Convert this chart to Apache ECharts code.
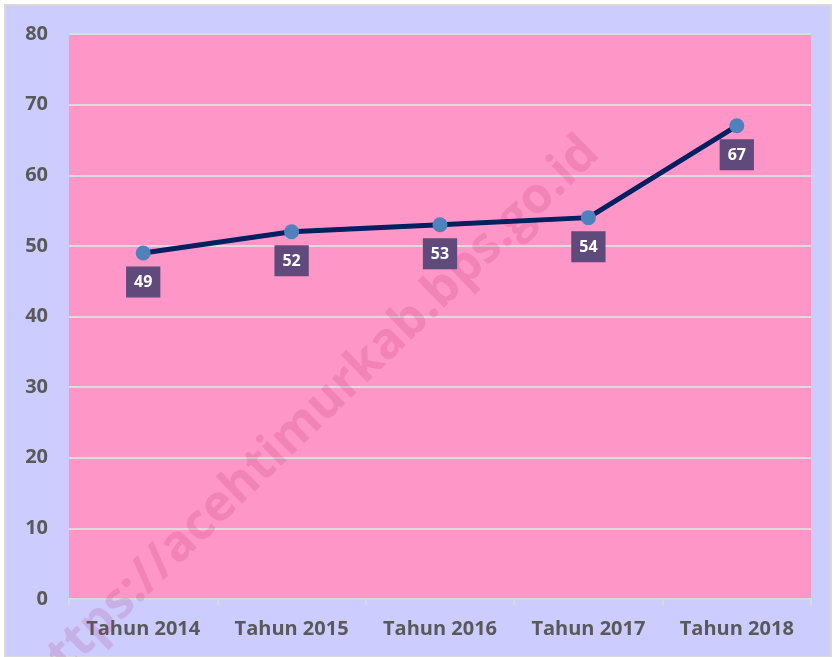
<!DOCTYPE html>
<html>
<head>
<meta charset="utf-8">
<script src="https://cdn.jsdelivr.net/npm/echarts@6/dist/echarts.min.js"></script>
<style>
  html, body { margin: 0; padding: 0; background: #fff; }
  #main { width: 836px; height: 657px; }
</style>
</head>
<body>
<div id="main"></div>
<script>
// data
var categories = ["Tahun 2014", "Tahun 2015", "Tahun 2016", "Tahun 2017", "Tahun 2018"];
var values = [49, 52, 53, 54, 67];
var yTicks = { min: 0, max: 80, interval: 10 };
var watermark = "https://acehtimurkab.bps.go.id";

var myChart = echarts.init(document.getElementById("main"));

var option = {
  backgroundColor: "#fff",
  textStyle: { fontFamily: "Open Sans" },
  graphic: [
    {
      type: "rect",
      z: -10,
      shape: { x: 5, y: 5, width: 826, height: 652 },
      style: { fill: "#ccccff", stroke: "#d9d9d9", lineWidth: 2 }
    },
    {
      type: "text",
      z: 1,
      x: 312,
      y: 416,
      rotation: Math.PI / 4 * 0.98,
      style: {
        text: watermark,
        font: "bold 50px 'Open Sans'",
        fill: "rgba(170, 40, 100, 0.17)",
        align: "center",
        verticalAlign: "middle"
      }
    }
  ],
  grid: {
    left: 69,
    right: 25,
    top: 34,
    bottom: 58,
    show: true,
    backgroundColor: "#ff96c8",
    borderWidth: 0
  },
  xAxis: {
    type: "category",
    data: categories,
    boundaryGap: true,
    axisLine: { lineStyle: { color: "#d9d9d9", width: 2 } },
    axisTick: { show: true, length: 6, lineStyle: { color: "#d9d9d9", width: 2 } },
    axisLabel: {
      color: "#595959",
      fontWeight: "bold",
      fontSize: 20,
      margin: 20
    }
  },
  yAxis: {
    type: "value",
    min: yTicks.min,
    max: yTicks.max,
    interval: yTicks.interval,
    axisLine: { show: false },
    axisTick: { show: false },
    splitLine: { lineStyle: { color: "#dcdcdc", width: 2 } },
    axisLabel: {
      color: "#595959",
      fontWeight: "bold",
      fontSize: 20,
      margin: 21
    }
  },
  series: [
    {
      type: "line",
      data: values,
      symbol: "circle",
      symbolSize: 15,
      lineStyle: { color: "#002060", width: 5 },
      itemStyle: { color: "#4f81bd" },
      label: {
        show: true,
        position: "bottom",
        distance: 6,
        color: "#fff",
        fontWeight: "bold",
        fontSize: 16,
        lineHeight: 18,
        backgroundColor: "#604a7b",
        padding: [7, 8, 6, 8]
      },
      z: 5
    }
  ]
};

myChart.setOption(option);
</script>
</body>
</html>
